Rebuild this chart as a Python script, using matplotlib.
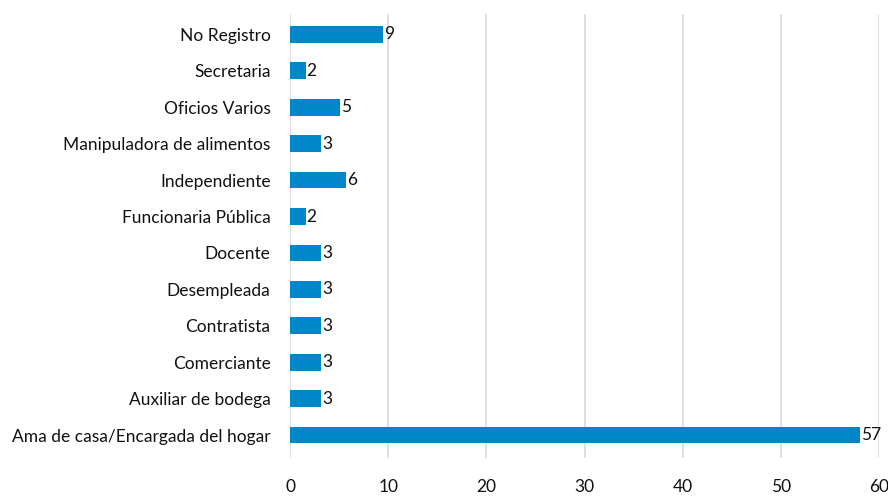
import matplotlib
matplotlib.use("Agg")
import matplotlib.pyplot as plt

# categorías de abajo hacia arriba
categories = [
    "Ama de casa/Encargada del hogar",
    "Auxiliar de bodega",
    "Comerciante",
    "Contratista",
    "Desempleada",
    "Docente",
    "Funcionaria Pública",
    "Independiente",
    "Manipuladora de alimentos",
    "Oficios Varios",
    "Secretaria",
    "No Registro",
]
values = [58.05, 3.15, 3.15, 3.15, 3.15, 3.15, 1.6, 5.7, 3.15, 5.1, 1.6, 9.45]
# etiquetas mostradas junto a cada barra
labels = ["57", "3", "3", "3", "3", "3", "2", "6", "3", "5", "2", "9"]
xticks = [0, 10, 20, 30, 40, 50, 60]

plt.rcParams["font.family"] = ["Lato", "DejaVu Sans"]

fig = plt.figure(figsize=(8.88, 4.96), dpi=100)
ax = fig.add_axes([290 / 888, 1 - 458 / 496, 589 / 888, 444 / 496])

pos = list(range(len(categories)))
ax.barh(pos, values, height=0.46, color="#0087C9", zorder=3)
for p, v, lab in zip(pos, values, labels):
    ax.text(v + 0.1, p, lab, va="center", ha="left", fontsize=12.5, color="#111111")

ax.set_xlim(0, 60)
ax.set_ylim(-0.63, 11.56)
ax.set_xticks(xticks)
ax.set_yticks(pos)
ax.set_yticklabels(categories)
ax.tick_params(axis="y", length=0, pad=14, labelsize=12.5, labelcolor="#111111")
ax.tick_params(axis="x", length=0, pad=15, labelsize=12.5, labelcolor="#111111")
ax.grid(axis="x", color="#D9D9D9", linewidth=1.2, zorder=0)
for spine in ax.spines.values():
    spine.set_visible(False)

fig.savefig("out.png", dpi=100, facecolor="white")
